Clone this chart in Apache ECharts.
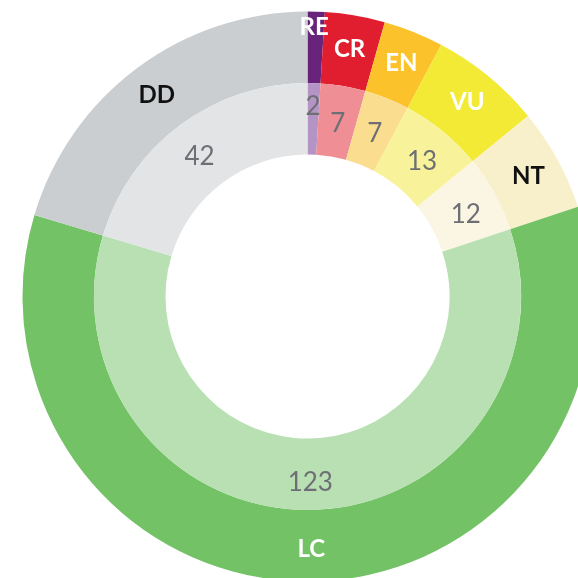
<!DOCTYPE html>
<html>
<head>
<meta charset="utf-8">
<script src="https://cdn.jsdelivr.net/npm/echarts@6/dist/echarts.min.js"></script>
<style>
  html, body { margin: 0; padding: 0; background: #fff; }
  #chart { width: 578px; height: 578px; }
</style>
</head>
<body>
<div id="chart"></div>
<script>
// categories, clockwise from 12 o'clock
const categories = ['RE', 'CR', 'EN', 'VU', 'NT', 'LC', 'DD'];
const counts = [2, 7, 7, 13, 12, 123, 42];

const outerColors = ['#68247b', '#e01e2f', '#fbc22b', '#f2ea35', '#f8f0cb', '#74c266', '#cbced1'];
const innerColors = ['#b394c4', '#ef8e95', '#fbdd90', '#f8f39a', '#fbf6e3', '#b8e0b2', '#e3e4e6'];
const outerLabelColors = ['#fff', '#fff', '#fff', '#fff', '#111', '#fff', '#111'];

const chart = echarts.init(document.getElementById('chart'), null, { renderer: 'canvas' });

const center = [307.5, 296.5];

const outerData = categories.map((name, i) => {
  const item = {
    name,
    value: counts[i],
    itemStyle: { color: outerColors[i] },
    label: { color: outerLabelColors[i] }
  };
  // smallest slice: its name sits up near the rim
  if (name === 'RE') item.label.offset = [-1, -17];
  return item;
});

const innerData = categories.map((name, i) => {
  const item = {
    name,
    value: counts[i],
    itemStyle: { color: innerColors[i] }
  };
  if (name === 'RE') item.label = { offset: [0, -9] };
  return item;
});

const option = {
  animation: false,
  series: [
    {
      type: 'pie',
      center,
      radius: [213.5, 285],
      startAngle: 90,
      clockwise: true,
      silent: true,
      label: {
        show: true,
        position: 'inside',
        formatter: '{b}',
        fontFamily: 'Lato',
        fontWeight: 'bold',
        fontSize: 24,
        offset: [0, 1]
      },
      labelLine: { show: false },
      data: outerData
    },
    {
      type: 'pie',
      center,
      radius: [142, 213.5],
      startAngle: 90,
      clockwise: true,
      silent: true,
      label: {
        show: true,
        position: 'inside',
        formatter: '{c}',
        fontFamily: 'Lato',
        fontSize: 26,
        color: '#6e6f75',
        offset: [0, 5]
      },
      labelLine: { show: false },
      data: innerData
    }
  ]
};

chart.setOption(option);
</script>
</body>
</html>
